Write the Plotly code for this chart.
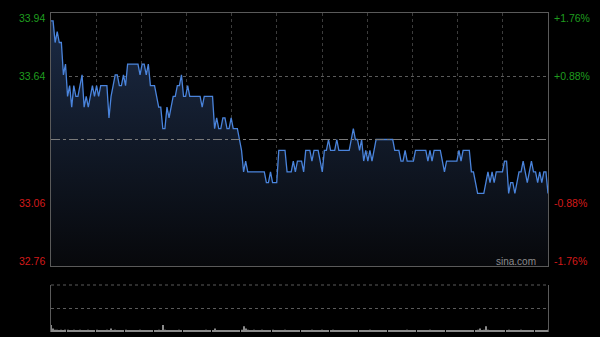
import plotly.graph_objects as go

prev_close = 33.35
pct_levels = [1.76, 0.88, -0.88, -1.76]

price_am = [
    33.90, 33.90, 33.80, 33.85, 33.80, 33.80, 33.65, 33.70, 33.55, 33.60,
    33.50, 33.60, 33.55, 33.55, 33.60, 33.65, 33.50, 33.55, 33.50, 33.55,
    33.60, 33.55, 33.60, 33.55, 33.60, 33.60, 33.60, 33.60, 33.45, 33.55,
    33.60, 33.65, 33.65, 33.60, 33.60, 33.65, 33.60, 33.70, 33.70, 33.70,
    33.70, 33.70, 33.70, 33.65, 33.70, 33.70, 33.65, 33.70, 33.60, 33.60,
    33.60, 33.55, 33.50, 33.50, 33.40, 33.40, 33.50, 33.45, 33.50, 33.55,
    33.55, 33.60, 33.60, 33.65, 33.55, 33.55, 33.60, 33.55, 33.55, 33.55,
    33.55, 33.55, 33.55, 33.50, 33.55, 33.55, 33.55, 33.55, 33.55, 33.40,
    33.45, 33.40, 33.40, 33.45, 33.45, 33.40, 33.40, 33.45, 33.40, 33.40,
    33.40, 33.35, 33.30, 33.20, 33.25, 33.20, 33.20, 33.20, 33.20, 33.20,
    33.20, 33.20, 33.20, 33.20, 33.15, 33.15, 33.20, 33.15, 33.15, 33.15,
    33.30, 33.30, 33.30, 33.30, 33.20, 33.20, 33.20, 33.25, 33.20, 33.25,
    33.25,
]
price_pm = [
    33.25, 33.20, 33.30, 33.30, 33.30, 33.25, 33.30, 33.30, 33.30, 33.25,
    33.20, 33.30, 33.30, 33.35, 33.30, 33.30, 33.30, 33.35, 33.30, 33.30,
    33.30, 33.30, 33.30, 33.30, 33.35, 33.40, 33.35, 33.35, 33.30, 33.35,
    33.25, 33.30, 33.25, 33.30, 33.25, 33.30, 33.35, 33.35, 33.35, 33.35,
    33.35, 33.35, 33.35, 33.35, 33.35, 33.30, 33.30, 33.30, 33.25, 33.25,
    33.30, 33.25, 33.25, 33.25, 33.25, 33.30, 33.30, 33.30, 33.30, 33.30,
    33.30, 33.25, 33.30, 33.25, 33.30, 33.30, 33.30, 33.30, 33.25, 33.20,
    33.25, 33.25, 33.25, 33.25, 33.25, 33.25, 33.30, 33.25, 33.30, 33.30,
    33.30, 33.30, 33.20, 33.20, 33.15, 33.10, 33.10, 33.10, 33.10, 33.15,
    33.20, 33.15, 33.20, 33.15, 33.20, 33.20, 33.20, 33.20, 33.25, 33.25,
    33.10, 33.15, 33.15, 33.10, 33.15, 33.20, 33.20, 33.25, 33.20, 33.15,
    33.20, 33.25, 33.20, 33.20, 33.15, 33.20, 33.15, 33.20, 33.20, 33.10,
]
prices = price_am + price_pm

volumes = [
    6, 3, 2, 2, 1, 2, 1, 2, 2, 1, 1, 2, 1, 1, 2, 1, 1, 1, 2, 1,
    1, 1, 2, 1, 1, 1, 1, 2, 1, 3, 1, 2, 1, 1, 1, 1, 2, 1, 1, 1,
    1, 1, 1, 2, 1, 1, 1, 1, 1, 1, 1, 1, 2, 1, 6, 2, 1, 1, 1, 1,
    1, 1, 2, 1, 1, 1, 1, 1, 1, 1, 1, 1, 1, 1, 1, 2, 1, 1, 1, 3,
    1, 1, 1, 1, 1, 1, 1, 1, 1, 1, 1, 1, 2, 5, 3, 2, 1, 1, 2, 1,
    1, 1, 2, 1, 1, 1, 1, 2, 1, 1, 1, 1, 1, 2, 1, 1, 1, 1, 1, 1,
    1, 1, 1, 1, 1, 1, 2, 1, 1, 1, 1, 2, 1, 1, 1, 1, 2, 1, 1, 1,
    1, 1, 1, 1, 1, 1, 1, 1, 1, 1, 1, 1, 1, 1, 2, 1, 1, 1, 1, 1,
    1, 1, 1, 1, 1, 1, 1, 1, 1, 1, 1, 1, 2, 1, 1, 1, 1, 1, 1, 1,
    1, 1, 1, 2, 1, 1, 1, 1, 1, 1, 1, 1, 1, 1, 1, 1, 1, 1, 1, 1,
    1, 1, 1, 1, 1, 1, 2, 3, 1, 2, 5, 2, 1, 1, 1, 1, 1, 1, 1, 1,
    1, 2, 1, 1, 1, 1, 1, 2, 1, 1, 1, 1, 1, 1, 1, 1, 1, 1, 1, 1, 2,
]

minutes = list(range(len(prices)))
n_min = len(prices) - 1

hi = prev_close * (1 + pct_levels[0] / 100)
lo = prev_close * (1 + pct_levels[-1] / 100)
levels = [prev_close * (1 + p / 100) for p in pct_levels]
price_labels = [f"{v:.2f}" for v in levels]
pct_labels = [f"{p:+.2f}%" for p in pct_levels]

GREEN = "#1f9d1f"
RED = "#d41a1a"
FONT = "Liberation Sans, Arial, sans-serif"
VOL_MAX = 40

fig = go.Figure()
fig.add_trace(go.Scatter(x=minutes, y=[lo] * len(prices), mode="lines",
                         line=dict(width=0), hoverinfo="skip", showlegend=False,
                         xaxis="x", yaxis="y"))
fig.add_trace(go.Scatter(x=minutes, y=prices, mode="lines",
                         line=dict(color="#4a84dc", width=1.3),
                         fill="tonexty",
                         fillgradient=dict(type="vertical",
                                           colorscale=[[0, "#07080b"], [1, "#1b2a44"]]),
                         showlegend=False, xaxis="x", yaxis="y"))
fig.add_trace(go.Bar(x=minutes, y=volumes, marker=dict(color="#8a8a8a", line=dict(width=0)),
                     width=0.5, showlegend=False, xaxis="x2", yaxis="y2"))

grid_x = [n_min * k / 11 for k in range(1, 11)]

fig.update_layout(
    width=600, height=337,
    margin=dict(l=51, r=52, t=13, b=5),
    paper_bgcolor="#000000", plot_bgcolor="#000000",
    showlegend=False,
    xaxis=dict(domain=[0, 1], range=[0, n_min], anchor="y",
               tickvals=grid_x, showticklabels=False, ticks="",
               showgrid=True, gridcolor="#3c3c3c", griddash="dot", gridwidth=1,
               showline=True, mirror=True, linecolor="#5a5a5a", linewidth=1,
               zeroline=False),
    yaxis=dict(domain=[0.2069, 1], range=[lo, hi], anchor="x",
               tickvals=[levels[1], levels[2]], showticklabels=False, ticks="",
               showgrid=True, gridcolor="#5a5a5a", griddash="dot", gridwidth=1,
               showline=True, mirror=True, linecolor="#5a5a5a", linewidth=1,
               zeroline=False),
    xaxis2=dict(domain=[0, 1], range=[0, n_min], anchor="y2", matches="x",
                showticklabels=False, showgrid=False, showline=False,
                zeroline=False, ticks=""),
    yaxis2=dict(domain=[0, 0.1473], range=[0, VOL_MAX], anchor="x2",
                tickvals=[VOL_MAX / 2], showticklabels=False, ticks="",
                showgrid=True, gridcolor="#5a5a5a", griddash="dot", gridwidth=1,
                showline=True, mirror=True, linecolor="#5a5a5a", linewidth=1,
                zeroline=False),
)

fig.add_shape(type="line", xref="x domain", yref="y", x0=0, x1=1,
              y0=prev_close, y1=prev_close,
              line=dict(color="#7a7a7a", width=1, dash="dashdot"))
fig.add_shape(type="line", xref="x2 domain", yref="y2 domain", x0=0, x1=1,
              y0=1, y1=1, line=dict(color="#5a5a5a", width=1, dash="dot"))

shifts = [-5, 0, 0, 5]
for v, pl, pc, ys in zip(levels, price_labels, pct_labels, shifts):
    col = GREEN if v > prev_close else RED
    fig.add_annotation(xref="paper", yref="y", x=0, y=v, text=pl,
                       xanchor="right", yanchor="middle", xshift=-4, yshift=ys,
                       showarrow=False, font=dict(family=FONT, size=10.5, color=col))
    fig.add_annotation(xref="paper", yref="y", x=1, y=v, text=pc,
                       xanchor="left", yanchor="middle", xshift=4, yshift=ys,
                       showarrow=False, font=dict(family=FONT, size=10.5, color=col))

fig.add_annotation(xref="paper", yref="y domain", x=1, y=0, text="sina.com",
                   xanchor="right", yanchor="bottom", xshift=-10, yshift=-3,
                   showarrow=False, font=dict(family=FONT, size=10, color="#8c8c8c"))

fig.write_html("out.html")
